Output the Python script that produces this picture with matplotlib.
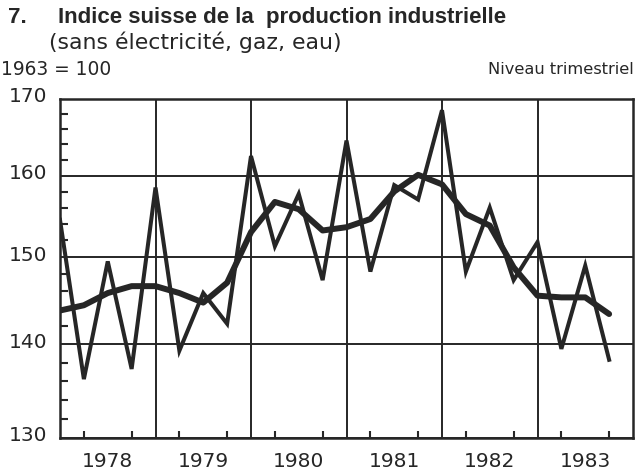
import matplotlib
matplotlib.use('Agg')
import matplotlib.pyplot as plt
import matplotlib.transforms as mtransforms
from matplotlib.ticker import NullFormatter

# ---- data ----
years = ['1978', '1979', '1980', '1981', '1982', '1983']
quarters = [1978 + 0.25 * i for i in range(24)]
raw = [154.5, 136.2, 149.5, 137.3, 158.5, 139.3, 145.8, 142.3,
       162.5, 151.3, 157.7, 147.3, 164.5, 148.3, 158.8, 157.0,
       168.5, 148.3, 156.0, 147.3, 151.8, 139.5, 149.0, 138.3]
trend = [143.8, 144.4, 145.8, 146.6, 146.6, 145.8, 144.7, 147.0,
         153.0, 156.7, 155.8, 153.2, 153.6, 154.6, 158.0, 160.1,
         158.9, 155.2, 153.8, 148.8, 145.5, 145.3, 145.3, 143.4]
y_ticks = [130, 140, 150, 160, 170]
y_minor = [v for v in range(132, 170, 2) if v not in y_ticks]
year_bounds = [1979, 1980, 1981, 1982, 1983]
year_centers = [1978.5 + k for k in range(6)]
quarter_ticks = [1978 + 0.25 * i for i in range(1, 24) if i % 4 != 0]

W, H = 636, 477
ink = '#262626'
fig = plt.figure(figsize=(W / 100, H / 100), dpi=100)
ax = fig.add_axes([60 / W, 1 - 439 / H, (633 - 60) / W, (439 - 100) / H])

ax.plot(quarters, raw, color=ink, lw=2.9, solid_joinstyle='miter', zorder=3)
ax.plot(quarters, trend, color=ink, lw=4.3, solid_joinstyle='round',
        solid_capstyle='round', zorder=4)

ax.set_yscale('log')
ax.set_ylim(130, 170)
ax.set_xlim(1978, 1984)
ax.set_yticks(y_ticks)
ax.set_yticks(y_minor, minor=True)
ax.set_yticklabels([str(v) for v in y_ticks])
ax.yaxis.set_minor_formatter(NullFormatter())
ax.set_xticks(year_centers)
ax.set_xticklabels(years)
ax.set_xticks(quarter_ticks, minor=True)

ax.grid(axis='y', which='major', color=ink, lw=1.4)
for yb in year_bounds:
    ax.axvline(yb, color=ink, lw=1.4, zorder=2)

for s in ax.spines.values():
    s.set_linewidth(1.8)
    s.set_color(ink)

ax.tick_params(axis='x', which='major', length=0, pad=9.5, labelsize=14.5,
               labelcolor=ink)
ax.tick_params(axis='x', which='minor', direction='in', length=5, width=1.5,
               color=ink)
ax.tick_params(axis='y', which='major', length=0, pad=9.4, labelsize=14.5,
               labelcolor=ink)
ax.tick_params(axis='y', which='minor', direction='in', length=6, width=1.5,
               color=ink)

offset = mtransforms.ScaledTranslation(0, 5 / 100, fig.dpi_scale_trans)
for lbl in ax.get_yticklabels():
    lbl.set_transform(lbl.get_transform() + offset)

# ---- texts ----
fig.text(8 / W, 1 - 23 / H, '7.', fontfamily='Liberation Sans',
         fontweight='bold', fontsize=16, va='baseline', color=ink)
fig.text(58 / W, 1 - 23 / H, 'Indice suisse de la  production industrielle',
         fontfamily='Liberation Sans', fontweight='bold', fontsize=16,
         va='baseline', color=ink)
fig.text(49 / W, 1 - 49 / H, '(sans électricité, gaz, eau)',
         fontfamily='DejaVu Sans', fontsize=15.8, va='baseline', color=ink)
fig.text(1 / W, 1 - 75 / H, '1963 = 100', fontfamily='DejaVu Sans',
         fontsize=13.4, va='baseline', color=ink)
fig.text(634 / W, 1 - 74.5 / H, 'Niveau trimestriel', fontfamily='DejaVu Sans',
         fontsize=11.7, va='baseline', ha='right', color=ink)

fig.savefig('out.png', dpi=100)
